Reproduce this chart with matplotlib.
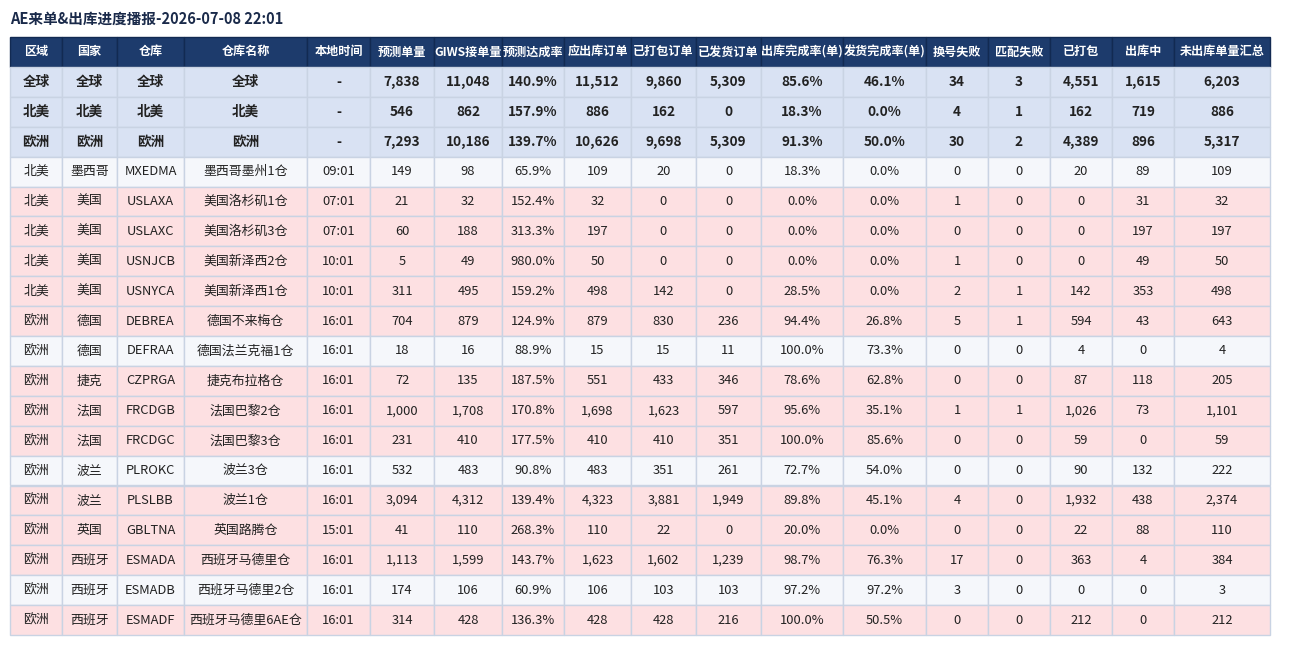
import matplotlib
matplotlib.use('Agg')
import matplotlib.pyplot as plt
from matplotlib.patches import Rectangle

plt.rcParams['font.family'] = ['Noto Sans CJK SC', 'DejaVu Sans']

TITLE = 'AE来单&出库进度播报-2026-07-08 22:01'

headers = ['区域', '国家', '仓库', '仓库名称', '本地时间', '预测单量', 'GIWS接单量', '预测达成率',
           '应出库订单', '已打包订单', '已发货订单', '出库完成率(单)', '发货完成率(单)',
           '换号失败', '匹配失败', '已打包', '出库中', '未出库单量汇总']

# first 3 rows are the bold summary rows
regions = ['全球', '北美', '欧洲', '北美', '北美', '北美', '北美', '北美', '欧洲', '欧洲', '欧洲',
           '欧洲', '欧洲', '欧洲', '欧洲', '欧洲', '欧洲', '欧洲', '欧洲']
countries = ['全球', '北美', '欧洲', '墨西哥', '美国', '美国', '美国', '美国', '德国', '德国', '捷克',
             '法国', '法国', '波兰', '波兰', '英国', '西班牙', '西班牙', '西班牙']
codes = ['全球', '北美', '欧洲', 'MXEDMA', 'USLAXA', 'USLAXC', 'USNJCB', 'USNYCA', 'DEBREA', 'DEFRAA',
         'CZPRGA', 'FRCDGB', 'FRCDGC', 'PLROKC', 'PLSLBB', 'GBLTNA', 'ESMADA', 'ESMADB', 'ESMADF']
names = ['全球', '北美', '欧洲', '墨西哥墨州1仓', '美国洛杉矶1仓', '美国洛杉矶3仓', '美国新泽西2仓',
         '美国新泽西1仓', '德国不来梅仓', '德国法兰克福1仓', '捷克布拉格仓', '法国巴黎2仓', '法国巴黎3仓',
         '波兰3仓', '波兰1仓', '英国路腾仓', '西班牙马德里仓', '西班牙马德里2仓', '西班牙马德里6AE仓']
local_times = ['-', '-', '-', '09:01', '07:01', '07:01', '10:01', '10:01', '16:01', '16:01', '16:01',
               '16:01', '16:01', '16:01', '16:01', '15:01', '16:01', '16:01', '16:01']
forecast = [7838, 546, 7293, 149, 21, 60, 5, 311, 704, 18, 72, 1000, 231, 532, 3094, 41, 1113, 174, 314]
giws = [11048, 862, 10186, 98, 32, 188, 49, 495, 879, 16, 135, 1708, 410, 483, 4312, 110, 1599, 106, 428]
forecast_rate = [140.9, 157.9, 139.7, 65.9, 152.4, 313.3, 980.0, 159.2, 124.9, 88.9, 187.5, 170.8,
                 177.5, 90.8, 139.4, 268.3, 143.7, 60.9, 136.3]
to_ship = [11512, 886, 10626, 109, 32, 197, 50, 498, 879, 15, 551, 1698, 410, 483, 4323, 110, 1623, 106, 428]
packed_orders = [9860, 162, 9698, 20, 0, 0, 0, 142, 830, 15, 433, 1623, 410, 351, 3881, 22, 1602, 103, 428]
shipped_orders = [5309, 0, 5309, 0, 0, 0, 0, 0, 236, 11, 346, 597, 351, 261, 1949, 0, 1239, 103, 216]
out_rate = [85.6, 18.3, 91.3, 18.3, 0.0, 0.0, 0.0, 28.5, 94.4, 100.0, 78.6, 95.6, 100.0, 72.7, 89.8,
            20.0, 98.7, 97.2, 100.0]
ship_rate = [46.1, 0.0, 50.0, 0.0, 0.0, 0.0, 0.0, 0.0, 26.8, 73.3, 62.8, 35.1, 85.6, 54.0, 45.1,
             0.0, 76.3, 97.2, 50.5]
swap_fail = [34, 4, 30, 0, 1, 0, 1, 2, 5, 0, 0, 1, 0, 0, 4, 0, 17, 3, 0]
match_fail = [3, 1, 2, 0, 0, 0, 0, 1, 1, 0, 0, 1, 0, 0, 0, 0, 0, 0, 0]
packed = [4551, 162, 4389, 20, 0, 0, 0, 142, 594, 4, 87, 1026, 59, 90, 1932, 22, 363, 0, 212]
in_progress = [1615, 719, 896, 89, 31, 197, 49, 353, 43, 0, 118, 73, 0, 132, 438, 88, 4, 0, 0]
not_shipped = [6203, 886, 5317, 109, 32, 197, 50, 498, 643, 4, 205, 1101, 59, 222, 2374, 110, 384, 3, 212]
# 1 = pink warning row, 0 = plain row (detail rows only)
warn_flag = [0, 1, 1, 1, 1, 1, 0, 1, 1, 1, 0, 1, 1, 1, 0, 1]

N_SUMMARY = 3


def fmt_int(v):
    return f'{v:,}'


def fmt_pct(v):
    return f'{v:.1f}%'


columns = [regions, countries, codes, names, local_times,
           [fmt_int(v) for v in forecast], [fmt_int(v) for v in giws],
           [fmt_pct(v) for v in forecast_rate], [fmt_int(v) for v in to_ship],
           [fmt_int(v) for v in packed_orders], [fmt_int(v) for v in shipped_orders],
           [fmt_pct(v) for v in out_rate], [fmt_pct(v) for v in ship_rate],
           [fmt_int(v) for v in swap_fail], [fmt_int(v) for v in match_fail],
           [fmt_int(v) for v in packed], [fmt_int(v) for v in in_progress],
           [fmt_int(v) for v in not_shipped]]

# layout in pixels
col_edges = [10, 62, 117, 184, 307, 370, 434, 502, 564, 631, 696, 761, 843, 926, 988, 1050, 1112, 1174, 1270]
top = 37
row_h = 29.9
n_rows = len(regions)

HEADER_BG = '#1d3b6c'
HEADER_LINE = '#122a52'
SUMMARY_BG = '#d9e2f3'
PLAIN_BG = '#f5f7fb'
WARN_BG = '#fde0e2'
GRID = '#c9d3e3'
TEXT = '#222222'

fig = plt.figure(figsize=(13, 6.46), dpi=100)
ax = fig.add_axes([0, 0, 1, 1])
ax.set_xlim(0, 1300)
ax.set_ylim(646, 0)
ax.axis('off')

ax.text(10, 19, TITLE, fontsize=10.5, fontweight='bold', color='#1a2a4a', ha='left', va='center')

# header
for j, h in enumerate(headers):
    x0, x1 = col_edges[j], col_edges[j + 1]
    ax.add_patch(Rectangle((x0, top), x1 - x0, row_h, facecolor=HEADER_BG,
                           edgecolor=HEADER_LINE, linewidth=1))
    ax.text((x0 + x1) / 2, top + row_h / 2, h, fontsize=8.7, fontweight='bold',
            color='white', ha='center', va='center')

# body
for i in range(n_rows):
    y0 = top + row_h * (i + 1)
    if i < N_SUMMARY:
        bg = SUMMARY_BG
        weight = 'bold'
        fs = 9.8
    else:
        bg = WARN_BG if warn_flag[i - N_SUMMARY] else PLAIN_BG
        weight = 'normal'
        fs = 9.3
    for j, col in enumerate(columns):
        x0, x1 = col_edges[j], col_edges[j + 1]
        ax.add_patch(Rectangle((x0, y0), x1 - x0, row_h, facecolor=bg,
                               edgecolor=GRID, linewidth=1))
        ax.text((x0 + x1) / 2, y0 + row_h / 2, col[i], fontsize=fs, fontweight=weight,
                color=TEXT, ha='center', va='center')

fig.savefig('out.png', dpi=100, facecolor='white')
